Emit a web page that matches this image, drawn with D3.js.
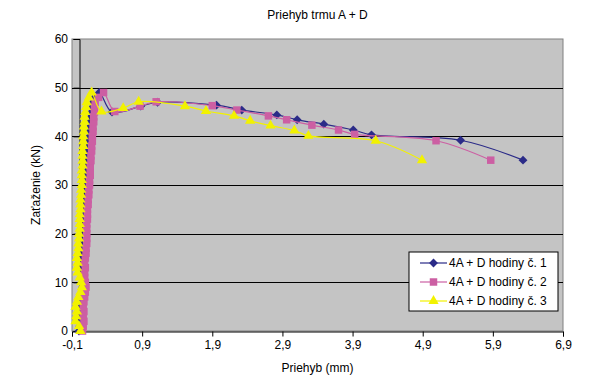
<!DOCTYPE html>
<html>
<head>
<meta charset="utf-8">
<script src="https://cdn.jsdelivr.net/npm/d3@7"></script>
<style>
  body { margin: 0; background: #fff; }
  svg { display: block; font-family: "Liberation Sans", Arial, sans-serif; }
</style>
</head>
<body>
<div id="chart"></div>
<script>
// load steps (kN) and deflections (mm) per test
const load1 = [0,1,2,3,4,5,6,7,8,9,10,11,12,13,14,15,16,17,18,19,20,21,22,23,24,25,26,27,28,29,30,31,32,33,34,35,36,37,38,39,40,41,42,43,44,45,46,47,48,49,45,46.2,47,46.4,45.4,44.4,43.4,42.5,41.3,40.3,39.2,35.1];
const defl1 = [0.00,0.01,0.02,0.02,0.03,0.03,0.04,0.04,0.05,0.05,0.05,0.05,0.06,0.06,0.06,0.06,0.07,0.07,0.07,0.07,0.07,0.08,0.08,0.08,0.09,0.09,0.09,0.10,0.10,0.10,0.11,0.11,0.11,0.12,0.12,0.12,0.13,0.13,0.14,0.14,0.15,0.15,0.16,0.16,0.17,0.18,0.19,0.20,0.22,0.29,0.47,0.88,1.12,1.96,2.32,2.82,3.11,3.49,3.91,4.17,5.44,6.33];

const load2 = [0,1,2,3,4,5,6,7,8,9,10,11,12,13,14,15,16,17,18,19,20,21,22,23,24,25,26,27,28,29,30,31,32,33,34,35,36,37,38,39,40,41,42,43,44,45,46,47,48,49,45.1,46.2,47.1,46.3,45.4,44.2,43.4,42.3,41.3,40.4,39.1,35.1];
const defl2 = [0.05,0.06,0.07,0.06,0.07,0.06,0.07,0.08,0.09,0.10,0.09,0.08,0.08,0.09,0.08,0.09,0.10,0.10,0.11,0.11,0.11,0.11,0.11,0.12,0.12,0.12,0.13,0.13,0.14,0.14,0.15,0.15,0.16,0.16,0.16,0.17,0.17,0.18,0.18,0.19,0.19,0.20,0.20,0.21,0.21,0.22,0.22,0.23,0.28,0.35,0.51,0.87,1.10,1.90,2.25,2.70,2.96,3.32,3.70,3.93,5.09,5.87];

const load3 = [0,1,2,3,4,5,6,7,8,9,10,11,12,13,14,15,16,17,18,19,20,21,22,23,24,25,26,27,28,29,30,31,32,33,34,35,36,37,38,39,40,41,42,43,44,45,46,47,48,49,45.1,45.8,47.1,46.2,45.2,44.2,43.2,42.2,41.2,40.1,39.1,35.1];
const defl3 = [0.02,0.00,-0.05,-0.04,-0.03,-0.05,-0.03,-0.01,0.02,0.04,0.03,0.01,-0.02,-0.03,-0.02,-0.03,-0.02,-0.01,-0.01,0.00,0.00,0.01,0.01,0.01,0.01,0.02,0.02,0.02,0.03,0.03,0.04,0.04,0.04,0.04,0.05,0.05,0.05,0.05,0.06,0.06,0.06,0.07,0.07,0.08,0.08,0.09,0.10,0.11,0.14,0.18,0.32,0.63,0.85,1.51,1.81,2.21,2.44,2.73,3.07,3.27,4.23,4.89];

const seriesNames = ["4A + D hodiny č. 1", "4A + D hodiny č. 2", "4A + D hodiny č. 3"];
const xTicks = [-0.1, 0.9, 1.9, 2.9, 3.9, 4.9, 5.9, 6.9];
const yTicks = [0, 10, 20, 30, 40, 50, 60];

const width = 600, height = 387;
const margin = {top: 39, right: 37, bottom: 56, left: 72};
const iw = width - margin.left - margin.right;
const ih = height - margin.top - margin.bottom;

const series = [
  {name: seriesNames[0], color: "#2b2b88", shape: d3.symbolDiamond2, size: 50, pts: d3.zip(defl1, load1)},
  {name: seriesNames[1], color: "#cc5fa3", shape: d3.symbolSquare, size: 56, pts: d3.zip(defl2, load2)},
  {name: seriesNames[2], color: "#f2f200", shape: d3.symbolTriangle, size: 46, pts: d3.zip(defl3, load3)}
];

const x = d3.scaleLinear().domain([-0.1, 6.9]).range([0, iw]);
const y = d3.scaleLinear().domain([0, 60]).range([ih, 0]);
const fmt = d => d3.format(".1f")(d).replace(".", ",").replace("−", "-");

const svg = d3.select("#chart").append("svg")
    .attr("width", width)
    .attr("height", height);

svg.append("text")
    .attr("x", margin.left + iw / 2)
    .attr("y", 19)
    .attr("text-anchor", "middle")
    .style("font-size", "12px")
    .text("Priehyb trmu A + D");

const g = svg.append("g").attr("transform", `translate(${margin.left},${margin.top})`);

g.append("rect")
    .attr("width", iw)
    .attr("height", ih)
    .attr("fill", "#c4c4c4")
    .attr("stroke", "#808080");

g.selectAll(".grid")
  .data(yTicks.filter(d => d > 0 && d < 60))
  .enter().append("line")
    .attr("x1", 0).attr("x2", iw)
    .attr("y1", d => Math.round(y(d)) + 0.5)
    .attr("y2", d => Math.round(y(d)) + 0.5)
    .attr("stroke", "#000");

// value axis crosses at x = 0
const yAxis = g.append("g")
    .attr("transform", `translate(${Math.round(x(0)) + 0.5},0)`)
    .call(d3.axisLeft(y).tickValues(yTicks).tickSize(6).tickFormat(""));
yAxis.select(".domain").attr("stroke", "#000");

g.selectAll(".ylab")
  .data(yTicks)
  .enter().append("text")
    .attr("x", -4)
    .attr("y", d => y(d))
    .attr("dy", "0.35em")
    .attr("text-anchor", "end")
    .style("font-size", "12px")
    .text(d => d);

const xAxis = g.append("g")
    .attr("transform", `translate(0,${ih + 0.5})`)
    .call(d3.axisBottom(x).tickValues(xTicks).tickSize(5).tickPadding(4).tickFormat(fmt));
xAxis.select(".domain").attr("stroke", "#000");
xAxis.selectAll("text").style("font-size", "12px").attr("fill", "#000").style("font-family", "inherit");

svg.append("text")
    .attr("x", margin.left + iw / 2)
    .attr("y", 372)
    .attr("text-anchor", "middle")
    .style("font-size", "12px")
    .text("Priehyb (mm)");

svg.append("text")
    .attr("transform", `translate(40,${margin.top + ih / 2}) rotate(-90)`)
    .attr("text-anchor", "middle")
    .style("font-size", "12px")
    .text("Zaťaženie (kN)");

const line = d3.line()
    .x(d => x(d[0]))
    .y(d => y(d[1]))
    .curve(d3.curveCatmullRom.alpha(0.5));

const sg = g.selectAll(".series")
  .data(series)
  .enter().append("g");

sg.append("path")
    .attr("d", d => line(d.pts))
    .attr("fill", "none")
    .attr("stroke", d => d.color)
    .attr("stroke-width", 1.2);

sg.each(function(s) {
  d3.select(this).selectAll("path.m")
    .data(s.pts)
    .enter().append("path")
      .attr("class", "m")
      .attr("transform", d => `translate(${x(d[0])},${y(d[1])})`)
      .attr("d", d3.symbol().type(s.shape).size(s.size))
      .attr("fill", s.color);
});

// legend
const lg = svg.append("g").attr("transform", "translate(409,252)");
lg.append("rect")
    .attr("width", 149).attr("height", 59)
    .attr("fill", "#fff").attr("stroke", "#000");
const row = lg.selectAll(".row")
  .data(series)
  .enter().append("g")
    .attr("transform", (d, i) => `translate(0,${11 + i * 19})`);
row.append("line")
    .attr("x1", 11).attr("x2", 38)
    .attr("stroke", d => d.color)
    .attr("stroke-width", 1.2);
row.append("path")
    .attr("transform", "translate(24.5,0)")
    .attr("d", d => d3.symbol().type(d.shape).size(d.size)())
    .attr("fill", d => d.color);
row.append("text")
    .attr("x", 40)
    .attr("dy", "0.35em")
    .style("font-size", "12px")
    .text(d => d.name);
</script>
</body>
</html>
